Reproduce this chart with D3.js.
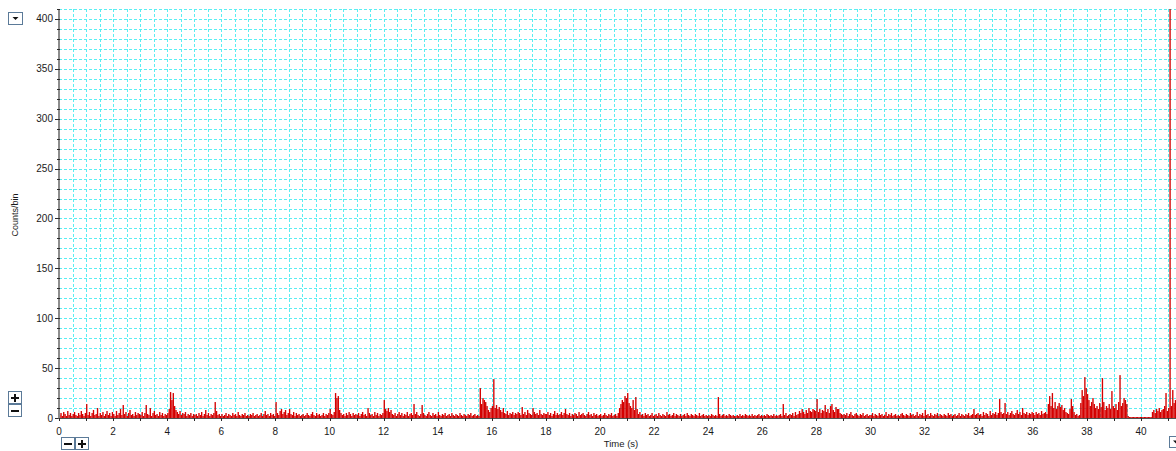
<!DOCTYPE html>
<html>
<head>
<meta charset="utf-8">
<script src="https://cdn.jsdelivr.net/npm/d3@7"></script>
<style>
  body { margin: 0; background: #fff; }
  text { font-family: "Liberation Sans", Arial, sans-serif; fill: #1a1a1a; }
</style>
</head>
<body>
<div id="chart"></div>
<script>
var svgWidth = 1176;
var svgHeight = 451;

// histogram bins, 0.05 s wide, starting at t = 0
var binSize = 0.05;
var counts = [].concat(
  [3,5,2,6,4,2,7,3,5,2,4,6,3,2,5,3,7,4,2,5],        // 0 s
  [14,3,6,2,5,8,3,4,10,2,5,3,6,2,4,7,3,5,2,6],      // 1 s
  [4,2,7,3,5,9,3,13,4,6,2,5,8,3,4,2,6,3,5,4],       // 2 s
  [3,6,2,5,13,4,3,10,2,5,7,3,4,2,6,3,5,2,4,3],      // 3 s
  [5,9,26,18,25,12,8,6,4,7,3,5,4,6,2,4,3,5,2,4],    // 4 s
  [3,4,2,5,3,6,2,4,8,3,5,2,4,3,5,16,7,3,4,2],       // 5 s
  [4,2,3,5,2,4,3,2,5,3,4,2,6,3,2,4,3,5,2,3],        // 6 s
  [2,4,3,5,2,3,4,2,3,5,2,4,7,3,4,2,5,3,4,2],        // 7 s
  [16,5,3,7,9,4,6,8,3,5,9,4,3,6,2,5,3,4,2,3],       // 8 s
  [4,2,3,5,3,2,4,6,3,2,5,3,4,2,3,5,2,4,3,5],        // 9 s
  [9,4,3,6,25,20,22,8,5,3,4,2,5,3,6,4,2,5,3,4],     // 10 s
  [3,5,2,4,6,3,4,2,10,5,3,4,2,6,3,5,2,4,3,5],       // 11 s
  [18,9,7,10,6,8,4,3,5,2,4,6,3,5,2,4,3,6,2,4],      // 12 s
  [5,3,14,4,6,3,2,4,13,5,3,2,4,6,3,2,5,3,4,2],      // 13 s
  [6,3,2,4,3,5,2,3,4,2,5,3,2,4,3,2,5,3,2,4],        // 14 s
  [3,2,4,3,5,2,3,4,2,3,2,30,14,20,18,16,12,8,6,10], // 15 s
  [12,39,10,13,9,11,8,6,10,5,4,7,3,5,4,6,3,5,4,6],  // 16 s
  [5,3,11,4,6,3,8,5,4,3,10,6,4,5,3,8,4,3,5,4],      // 17 s
  [4,6,3,5,2,4,7,3,5,3,4,6,3,5,9,4,3,5,2,4],        // 18 s
  [3,5,4,2,6,3,4,5,3,2,4,6,3,4,2,5,3,4,2,3],        // 19 s
  [4,2,3,5,3,2,4,3,5,2,3,4,2,5,10,14,18,16,22,20],  // 20 s
  [25,15,12,10,18,8,21,9,4,6,3,4,2,5,3,4,2,3,5,2],  // 21 s
  [3,4,2,5,3,2,4,3,2,6,3,4,2,3,5,2,4,3,2,4],        // 22 s
  [2,3,4,2,5,3,2,4,3,2,4,3,2,5,2,3,4,2,3,2],        // 23 s
  [3,2,4,3,2,3,2,21,4,2,3,4,2,3,2,4,3,2,3,2],       // 24 s
  [2,3,2,4,2,3,2,4,3,2,3,2,4,2,3,2,3,4,2,3],        // 25 s
  [2,3,2,4,3,2,3,2,4,2,3,2,3,4,2,14,3,5,2,3],       // 26 s
  [4,3,5,2,6,3,4,7,5,9,6,4,8,5,10,7,6,9,8,7],       // 27 s
  [19,6,9,5,8,7,13,6,9,5,12,14,8,6,11,9,9,5,4,3],   // 28 s
  [4,3,5,2,4,6,3,2,4,5,3,2,4,3,5,2,3,4,2,3],        // 29 s
  [3,5,2,4,3,2,5,3,4,2,3,6,2,4,3,5,2,3,4,2],        // 30 s
  [3,2,4,5,3,2,4,3,2,5,3,4,2,3,6,2,4,3,5,2],        // 31 s
  [8,3,4,2,5,3,2,4,3,5,2,4,3,2,4,3,2,5,3,4],        // 32 s
  [2,3,4,2,3,5,2,4,3,2,4,3,5,2,3,4,9,3,4,5],        // 33 s
  [3,4,2,6,3,5,4,2,7,3,5,4,6,3,5,19,6,4,5,15],      // 34 s
  [4,6,3,5,7,4,3,5,8,4,6,3,10,5,4,6,3,5,4,6],       // 35 s
  [5,3,6,4,5,3,7,4,5,6,4,14,22,12,25,10,16,9,12,15],// 36 s
  [11,13,8,10,6,5,4,9,19,12,6,3,4,2,3,15,28,22,41,30], // 37 s
  [24,18,12,16,20,14,10,12,9,15,11,40,16,8,12,10,14,9,27,12], // 38 s
  [10,14,8,16,43,12,15,20,18,14,2,1,1,1,1,1,1,1,1,1],  // 39 s
  [1,1,1,1,1,1,1,1,6,8,5,9,7,10,6,8,9,12,25,7],     // 40 s
  [10,460,12,28,15,18,28]                           // 41 s
);

var xTickValues = [0,2,4,6,8,10,12,14,16,18,20,22,24,26,28,30,32,34,36,38,40];
var yTickValues = [0,50,100,150,200,250,300,350,400];
var xDomain = [0, 41.3];
var yDomain = [0, 410];

var margin = { top: 9, left: 59, bottom: 33, right: 0 };
var plotRight = svgWidth - margin.right;
var plotBottom = svgHeight - margin.bottom;

var svg = d3.select("#chart")
  .append("svg")
  .attr("width", svgWidth)
  .attr("height", svgHeight);

var x = d3.scaleLinear().domain(xDomain).range([margin.left, margin.left + 41.3 * 27.05]);
var y = d3.scaleLinear().domain(yDomain).range([plotBottom, margin.top]);

svg.append("clipPath").attr("id", "plotClip")
  .append("rect")
  .attr("x", margin.left).attr("y", margin.top)
  .attr("width", plotRight - margin.left)
  .attr("height", plotBottom - margin.top);

// grid
var grid = svg.append("g")
  .attr("stroke", "#5aeef2")
  .attr("stroke-dasharray", "3,2")
  .attr("shape-rendering", "crispEdges");

grid.selectAll(".hgrid")
  .data(d3.range(10, 411, 10))
  .enter().append("line")
  .attr("x1", margin.left).attr("x2", plotRight)
  .attr("y1", d => Math.round(y(d)) + 0.5)
  .attr("y2", d => Math.round(y(d)) + 0.5);

grid.selectAll(".vgrid")
  .data(d3.range(0.5, 41.3, 0.5))
  .enter().append("line")
  .attr("y1", margin.top).attr("y2", plotBottom)
  .attr("x1", d => Math.round(x(d)) + 0.5)
  .attr("x2", d => Math.round(x(d)) + 0.5);

// histogram bars
svg.append("g")
  .attr("clip-path", "url(#plotClip)")
  .selectAll("rect")
  .data(counts)
  .enter().append("rect")
  .attr("x", (d, i) => x(i * binSize))
  .attr("width", (d, i) => x((i + 1) * binSize) - x(i * binSize))
  .attr("y", d => y(Math.min(d, 420)))
  .attr("height", d => plotBottom - y(Math.min(d, 420)))
  .attr("fill", "#d40000");

// y axis
var yAxisG = svg.append("g").attr("shape-rendering", "crispEdges");
yAxisG.append("line")
  .attr("x1", margin.left).attr("x2", margin.left)
  .attr("y1", margin.top).attr("y2", plotBottom + 1)
  .attr("stroke", "#8c8c8c").attr("stroke-width", 2);

yAxisG.selectAll(".minor")
  .data(d3.range(0, 411, 10))
  .enter().append("line")
  .attr("x1", margin.left - 2).attr("x2", margin.left + 1)
  .attr("y1", d => Math.round(y(d)) + 0.5)
  .attr("y2", d => Math.round(y(d)) + 0.5)
  .attr("stroke", "#2a2a2a");

yAxisG.selectAll(".major")
  .data(yTickValues)
  .enter().append("line")
  .attr("x1", margin.left - 4).attr("x2", margin.left + 1)
  .attr("y1", d => Math.round(y(d)) + 0.5)
  .attr("y2", d => Math.round(y(d)) + 0.5)
  .attr("stroke", "#2a2a2a");

svg.selectAll(".ylabel")
  .data(yTickValues)
  .enter().append("text")
  .attr("x", margin.left - 6)
  .attr("y", d => y(d) + 3.5)
  .attr("text-anchor", "end")
  .attr("font-size", "10px")
  .text(d => d);

svg.append("text")
  .attr("transform", "translate(18, 215) rotate(-90)")
  .attr("text-anchor", "middle")
  .attr("font-size", "9px")
  .text("Counts/bin");

// x axis
var xAxisG = svg.append("g").attr("shape-rendering", "crispEdges");
xAxisG.append("line")
  .attr("x1", margin.left - 1).attr("x2", plotRight)
  .attr("y1", plotBottom + 0.5).attr("y2", plotBottom + 0.5)
  .attr("stroke", "#505050").attr("stroke-width", 1.5);

xAxisG.selectAll(".xtick")
  .data(d3.range(0, 42, 1))
  .enter().append("line")
  .attr("x1", d => Math.round(x(d)) + 0.5)
  .attr("x2", d => Math.round(x(d)) + 0.5)
  .attr("y1", plotBottom).attr("y2", plotBottom + 3)
  .attr("stroke", "#2a2a2a");

svg.selectAll(".xlabel")
  .data(xTickValues)
  .enter().append("text")
  .attr("x", d => x(d))
  .attr("y", plotBottom + 17)
  .attr("text-anchor", "middle")
  .attr("font-size", "10px")
  .text(d => d);

svg.append("text")
  .attr("x", 621)
  .attr("y", 447)
  .attr("text-anchor", "middle")
  .attr("font-size", "9.5px")
  .text("Time (s)");

// little zoom buttons
function button(bx, by, w, h, symbol) {
  var g = svg.append("g").attr("shape-rendering", "crispEdges");
  g.append("rect")
    .attr("x", bx + 0.5).attr("y", by + 0.5)
    .attr("width", w).attr("height", h)
    .attr("fill", "#fff")
    .attr("stroke", "#5b7a98");
  var cx = bx + w / 2 + 0.5, cy = by + h / 2 + 0.5;
  if (symbol === "down") {
    g.append("path")
      .attr("d", `M${cx - 3},${cy - 1.5}L${cx + 3},${cy - 1.5}L${cx},${cy + 1.5}Z`)
      .attr("fill", "#111").attr("shape-rendering", "auto");
  }
  if (symbol === "plus" || symbol === "minus") {
    g.append("rect").attr("x", cx - 4).attr("y", cy - 1).attr("width", 8).attr("height", 2).attr("fill", "#111");
  }
  if (symbol === "plus") {
    g.append("rect").attr("x", cx - 1).attr("y", cy - 4).attr("width", 2).attr("height", 8).attr("fill", "#111");
  }
}

button(8, 12, 14, 12, "down");
button(8, 391, 13, 12, "plus");
button(8, 404, 13, 12, "minus");
button(61, 437, 13, 12, "minus");
button(75, 437, 13, 12, "plus");
button(1169, 436, 13, 11, "down");
</script>
</body>
</html>
